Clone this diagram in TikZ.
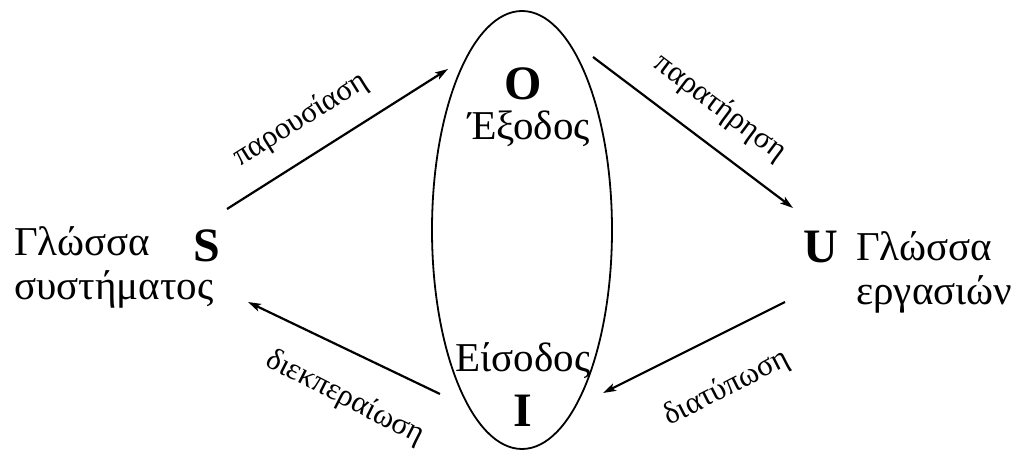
\documentclass[tikz,border=0pt]{standalone}
\usepackage{fontspec}
\setmainfont{Liberation Serif}
\newfontfamily\libser{Liberation Serif}
\usetikzlibrary{arrows.meta}
\tikzset{
  flow/.style={line width=2.2pt, -{Stealth[length=13pt,width=8pt,inset=3pt]}},
  big/.style={font=\libser\fontsize{41}{44}\selectfont, inner sep=0pt},
  letter/.style={font=\libser\fontsize{48}{50}\selectfont\bfseries, inner sep=0pt, anchor=base},
  lab/.style={font=\libser\fontsize{31}{34}\selectfont, inner sep=0pt},
}
\begin{document}
\begin{tikzpicture}[x=1pt,y=1pt]
\useasboundingbox (0,0) rectangle (1013,452);
% ellipse
\draw[line width=1.8pt] (522,222) ellipse [x radius=90, y radius=219];
% letters
\node[letter] (S) at (207,190) {S};
\node[letter] (U) at (821,189) {U};
\node[letter] (O) at (523,352) {O};
\node[letter] (I) at (523,25) {I};
% texts
\node[big, anchor=base west, align=left] (sys) at (14,152) {Γλώσσα\\συστήματος};
\node[big, anchor=base west, align=left] (task) at (856,147) {Γλώσσα\\εργασιών};
\node[big, anchor=base] (out) at (529,312) {Έξοδος};
\node[big, anchor=base] (in) at (523,80) {Είσοδος};
% arrow end points
\coordinate (a1s) at (227,243);
\coordinate (a1e) at (448,383);
\coordinate (a2s) at (593,395);
\coordinate (a2e) at (793,244);
\coordinate (a3s) at (440,58);
\coordinate (a3e) at (248,150);
\coordinate (a4s) at (785,150);
\coordinate (a4e) at (603,59);
\draw[flow] (a1s) -- (a1e);
\draw[flow] (a2s) -- (a2e);
\draw[flow] (a3s) -- (a3e);
\draw[flow] (a4s) -- (a4e);
% arrow labels
\node[lab, rotate=32] (l1) at (301,332) {παρουσίαση};
\node[lab, rotate=-37] (l2) at (720,344) {παρατήρηση};
\node[lab, rotate=-27] (l3) at (345,54) {διεκπεραίωση};
\node[lab, rotate=27] (l4) at (727,64) {διατύπωση};
\end{tikzpicture}
\end{document}
